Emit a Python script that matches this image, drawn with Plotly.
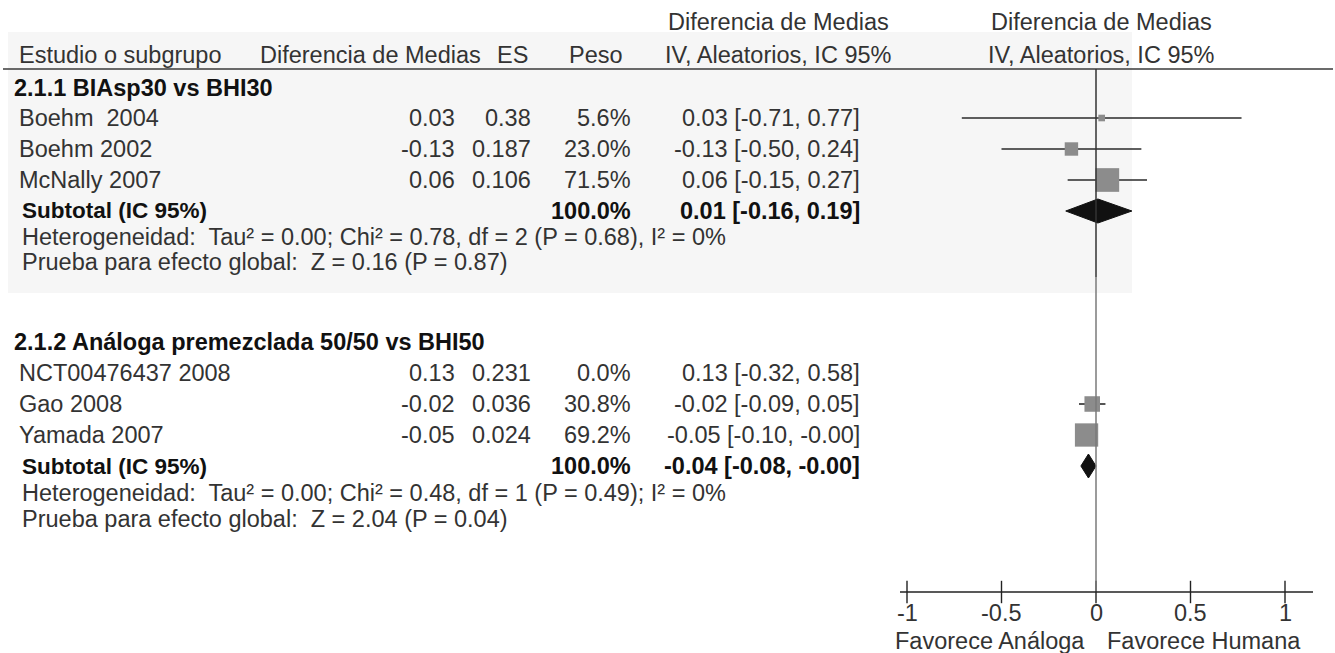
import plotly.graph_objects as go

# ---- data -------------------------------------------------------------
group_titles = ["2.1.1 BIAsp30 vs BHI30", "2.1.2 Análoga premezclada 50/50 vs BHI50"]

g1_studies = ["Boehm  2004", "Boehm 2002", "McNally 2007"]
g1_md = [0.03, -0.13, 0.06]
g1_se = ["0.38", "0.187", "0.106"]
g1_weight = [5.6, 23.0, 71.5]
g1_lo = [-0.71, -0.50, -0.15]
g1_hi = [0.77, 0.24, 0.27]
g1_total_weight = 100.0
g1_sub = [0.01, -0.16, 0.19]
g1_het = "Heterogeneidad:  Tau² = 0.00; Chi² = 0.78, df = 2 (P = 0.68), I² = 0%"
g1_test = "Prueba para efecto global:  Z = 0.16 (P = 0.87)"

g2_studies = ["NCT00476437 2008", "Gao 2008", "Yamada 2007"]
g2_md = [0.13, -0.02, -0.05]
g2_se = ["0.231", "0.036", "0.024"]
g2_weight = [0.0, 30.8, 69.2]
g2_lo = [-0.32, -0.09, -0.10]
g2_hi = [0.58, 0.05, -0.00]
g2_total_weight = 100.0
g2_sub = [-0.04, -0.08, -0.00]
g2_het = "Heterogeneidad:  Tau² = 0.00; Chi² = 0.48, df = 1 (P = 0.49); I² = 0%"
g2_test = "Prueba para efecto global:  Z = 2.04 (P = 0.04)"

tick_vals = [-1, -0.5, 0, 0.5, 1]
tick_text = ["-1", "-0.5", "0", "0.5", "1"]

# ---- layout constants (pixels) -----------------------------------------
W, H = 1335, 653
FONT = "Liberation Sans"
FS = 23.5
TXT = "#333333"
DARK = "#111111"

X_TITLE = 12
X_NAME = 17
X_NOTE = 20
X_MD = 457
X_SE = 533
X_W = 633
X_CI = 862

Y_HEAD1, Y_HEAD2, Y_RULE = 22, 55, 69
Y_AXIS = 592

groups = [
    dict(title=group_titles[0], studies=g1_studies, md=g1_md, se=g1_se, w=g1_weight,
         lo=g1_lo, hi=g1_hi, tw=g1_total_weight, sub=g1_sub, het=g1_het, test=g1_test,
         y_title=88, y_rows=[118, 149, 180], y_sub=211, y_het=237, y_test=262),
    dict(title=group_titles[1], studies=g2_studies, md=g2_md, se=g2_se, w=g2_weight,
         lo=g2_lo, hi=g2_hi, tw=g2_total_weight, sub=g2_sub, het=g2_het, test=g2_test,
         y_title=342, y_rows=[373, 404, 435], y_sub=466, y_het=493, y_test=519),
]

# forest axis: -1 -> 907 px, 1 -> 1285 px, axis line 900..1313 px
AX_L, AX_R = 900, 1313
px_per_unit = (1285 - 907) / 2.0
r0 = -1 - (907 - AX_L) / px_per_unit
r1 = r0 + (AX_R - AX_L) / px_per_unit

fig = go.Figure()
annotations = []


def fmt(v):
    return f"{v:.2f}"


def text(x, y, s, anchor="left", bold=False, color=None, size=FS):
    annotations.append(dict(
        x=x / W, y=1 - y / H, xref="paper", yref="paper",
        text=f"<b>{s}</b>" if bold else s, showarrow=False,
        xanchor=anchor, yanchor="middle",
        font=dict(family=FONT, size=size, color=color or (DARK if bold else TXT)),
    ))


# column headers
text(X_NAME, Y_HEAD2, "Estudio o subgrupo")
text(483, Y_HEAD2, "Diferencia de Medias", anchor="right")
text(530, Y_HEAD2, "ES", anchor="right")
text(625, Y_HEAD2, "Peso", anchor="right")
text(778, Y_HEAD1, "Diferencia de Medias", anchor="center")
text(778, Y_HEAD2, "IV, Aleatorios, IC 95%", anchor="center")
text(1101, Y_HEAD1, "Diferencia de Medias", anchor="center")
text(1101, Y_HEAD2, "IV, Aleatorios, IC 95%", anchor="center")

for g in groups:
    text(X_TITLE, g["y_title"], g["title"], bold=True)
    for i, name in enumerate(g["studies"]):
        y = g["y_rows"][i]
        text(X_NAME, y, name)
        text(X_MD, y, fmt(g["md"][i]), anchor="right")
        text(X_SE, y, g["se"][i], anchor="right")
        text(X_W, y, f"{g['w'][i]:.1f}%", anchor="right")
        text(X_CI, y, f"{fmt(g['md'][i])} [{fmt(g['lo'][i])}, {fmt(g['hi'][i])}]", anchor="right")
    text(X_NOTE, g["y_sub"], "Subtotal (IC 95%)", bold=True, size=22.5)
    text(X_W, g["y_sub"], f"{g['tw']:.1f}%", anchor="right", bold=True)
    s = g["sub"]
    text(X_CI, g["y_sub"], f"{fmt(s[0])} [{fmt(s[1])}, {fmt(s[2])}]", anchor="right", bold=True)
    text(X_NOTE, g["y_het"], g["het"])
    text(X_NOTE, g["y_test"], g["test"])

    # confidence intervals and weighted squares (zero-weight studies are not drawn)
    for i in range(len(g["studies"])):
        if g["w"][i] <= 0:
            continue
        y = g["y_rows"][i]
        fig.add_trace(go.Scatter(
            x=[g["lo"][i], g["hi"][i]], y=[y, y], mode="lines",
            line=dict(color="#2a2a2a", width=1.6), hoverinfo="skip", showlegend=False))
        fig.add_trace(go.Scatter(
            x=[g["md"][i]], y=[y], mode="markers",
            marker=dict(symbol="square", size=2.8 * g["w"][i] ** 0.5, color="#8c8c8c",
                        line=dict(width=0)),
            hoverinfo="skip", showlegend=False))
    # pooled estimate diamond
    est, lo, hi = g["sub"]
    ys = g["y_sub"]
    hh = 12
    fig.add_trace(go.Scatter(
        x=[lo, est, hi, est, lo], y=[ys, ys - hh, ys, ys + hh, ys],
        mode="lines", fill="toself", fillcolor="#111111",
        line=dict(color="#111111", width=1), hoverinfo="skip", showlegend=False))

# axis tick marks crossing the axis line
fig.add_trace(go.Scatter(
    x=tick_vals, y=[Y_AXIS] * len(tick_vals), mode="markers",
    marker=dict(symbol="line-ns", size=16, line=dict(color="#222222", width=1.4)),
    hoverinfo="skip", showlegend=False))

# tick labels and side captions
for v, t in zip(tick_vals, tick_text):
    text(907 + (v + 1) * px_per_unit, 613, t, anchor="center")
text(990, 641, "Favorece Análoga", anchor="center")
text(1204, 641, "Favorece Humana", anchor="center")

Y_SPLIT = 277
shapes = [
    # light background band of the upper block
    dict(type="rect", xref="paper", yref="paper", x0=8 / W, x1=1132 / W,
         y0=1 - 293 / H, y1=1 - 32 / H, fillcolor="#f6f6f6", line=dict(width=0), layer="below"),
    # header rule
    dict(type="line", xref="paper", yref="paper", x0=3 / W, x1=1333 / W,
         y0=1 - Y_RULE / H, y1=1 - Y_RULE / H, line=dict(color="#3a3a3a", width=1.5)),
    # line of no effect
    dict(type="line", xref="x", yref="y", x0=0, x1=0, y0=Y_RULE, y1=Y_SPLIT,
         line=dict(color="#333333", width=1.5)),
    dict(type="line", xref="x", yref="y", x0=0, x1=0, y0=Y_SPLIT, y1=Y_AXIS,
         line=dict(color="#7a7a7a", width=1.5)),
    # horizontal axis
    dict(type="line", xref="x", yref="y", x0=r0, x1=r1, y0=Y_AXIS, y1=Y_AXIS,
         line=dict(color="#222222", width=1.5)),
]

fig.update_layout(
    width=W, height=H, margin=dict(l=0, r=0, t=0, b=0),
    paper_bgcolor="white", plot_bgcolor="rgba(0,0,0,0)",
    xaxis=dict(domain=[AX_L / W, AX_R / W], range=[r0, r1], visible=False, fixedrange=True),
    yaxis=dict(domain=[0, 1], range=[H, 0], visible=False, fixedrange=True),
    annotations=annotations, shapes=shapes, showlegend=False,
)

fig.write_html("out.html")
